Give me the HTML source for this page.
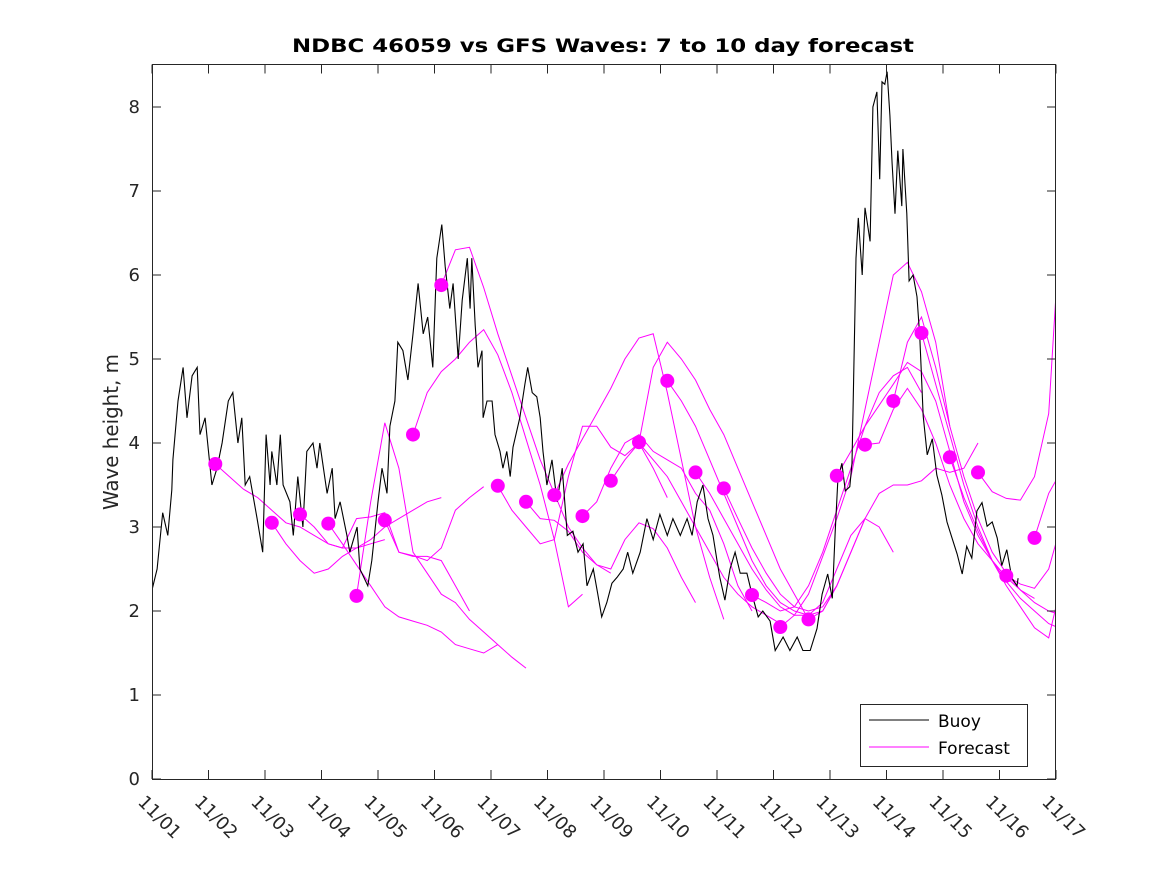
<!DOCTYPE html>
<html><head><meta charset="utf-8"><style>
html,body{margin:0;padding:0;background:#fff;}
svg{display:block;font-family:"DejaVu Sans","Liberation Sans",sans-serif;}
</style></head><body>
<svg id="chart" width="1167" height="875" viewBox="0 0 1167 875" xmlns="http://www.w3.org/2000/svg">
<rect x="0" y="0" width="1167" height="875" fill="#fff"/>
<text x="603" y="52" text-anchor="middle" font-size="19" font-weight="bold" fill="#000" textLength="622" lengthAdjust="spacingAndGlyphs">NDBC 46059 vs GFS Waves: 7 to 10 day forecast</text>
<text x="0" y="0" transform="translate(118,432) rotate(-90)" text-anchor="middle" font-size="20" fill="#262626" textLength="156" lengthAdjust="spacingAndGlyphs">Wave height, m</text>
<defs><clipPath id="clip"><rect x="152" y="64" width="904" height="715"/></clipPath></defs>
<g id="forecasts" clip-path="url(#clip)"></g>
<g id="buoy" clip-path="url(#clip)"></g>
<g id="dots" clip-path="url(#clip)"></g>
<g id="axes"></g>
<g>
<rect x="860.5" y="704.5" width="167" height="62" fill="#fff" stroke="#262626" stroke-width="1"/>
<line x1="869" y1="720" x2="929" y2="720" stroke="#000" stroke-width="1"/>
<text x="938" y="727" font-size="17" fill="#000">Buoy</text>
<line x1="869" y1="747" x2="929" y2="747" stroke="#ff00ff" stroke-width="1"/>
<text x="938" y="754" font-size="17" fill="#000">Forecast</text>
</g>
</svg>
<script>
const xTickLabels=["11/01","11/02","11/03","11/04","11/05","11/06","11/07","11/08","11/09","11/10","11/11","11/12","11/13","11/14","11/15","11/16","11/17"];
const yTickLabels=["0","1","2","3","4","5","6","7","8"];
const buoyDay=[0,.09,.19,.28,.35,.37,.46,.55,.62,.71,.80,.85,.94,1.06,1.15,1.24,1.35,1.43,1.52,1.59,1.65,1.73,1.86,1.96,2.02,2.09,2.12,2.21,2.27,2.32,2.44,2.50,2.58,2.67,2.74,2.85,2.92,2.97,3.10,3.19,3.24,3.33,3.45,3.50,3.63,3.68,3.82,3.89,4.00,4.07,4.16,4.21,4.30,4.35,4.44,4.53,4.62,4.71,4.80,4.88,4.97,5.04,5.13,5.19,5.27,5.33,5.42,5.49,5.58,5.63,5.66,5.72,5.77,5.84,5.86,5.93,6.02,6.07,6.16,6.21,6.28,6.34,6.39,6.51,6.60,6.65,6.73,6.81,6.87,6.92,6.99,7.08,7.17,7.26,7.35,7.45,7.54,7.63,7.70,7.81,7.89,7.96,8.05,8.14,8.23,8.34,8.42,8.51,8.64,8.76,8.87,8.99,9.12,9.22,9.35,9.47,9.56,9.65,9.75,9.84,9.93,10.00,10.05,10.14,10.23,10.32,10.41,10.53,10.62,10.73,10.81,10.94,11.03,11.17,11.29,11.42,11.52,11.65,11.77,11.86,11.96,12.04,12.09,12.14,12.21,12.27,12.35,12.39,12.42,12.46,12.50,12.57,12.62,12.71,12.76,12.83,12.88,12.92,12.97,13.01,13.06,13.10,13.15,13.20,13.27,13.29,13.36,13.40,13.47,13.54,13.59,13.65,13.72,13.81,13.89,13.98,14.07,14.16,14.25,14.34,14.42,14.51,14.60,14.69,14.78,14.87,14.96,15.04,15.13,15.22,15.31,15.33];
const buoyHs=[2.25,2.5,3.17,2.9,3.44,3.8,4.5,4.9,4.3,4.8,4.9,4.1,4.3,3.5,3.7,4.0,4.5,4.6,4.0,4.3,3.5,3.6,3.1,2.7,4.1,3.5,3.9,3.5,4.1,3.5,3.3,2.9,3.6,3.0,3.9,4.0,3.7,4.0,3.4,3.7,3.1,3.3,2.9,2.7,3.0,2.5,2.3,2.6,3.3,3.7,3.4,4.2,4.5,5.2,5.1,4.75,5.3,5.9,5.3,5.5,4.9,6.2,6.6,6.1,5.6,5.9,5.0,5.7,6.2,5.6,6.2,5.4,4.9,5.1,4.3,4.5,4.5,4.1,3.9,3.7,3.9,3.6,3.95,4.3,4.7,4.9,4.6,4.55,4.3,3.9,3.5,3.8,3.3,3.7,2.9,2.95,2.7,2.8,2.3,2.5,2.2,1.93,2.1,2.33,2.4,2.5,2.7,2.45,2.7,3.1,2.85,3.15,2.9,3.1,2.9,3.1,2.9,3.3,3.5,3.1,2.9,2.6,2.4,2.13,2.5,2.7,2.45,2.45,2.2,1.93,2.0,1.88,1.53,1.69,1.53,1.69,1.53,1.53,1.79,2.2,2.44,2.15,2.92,3.57,3.76,3.43,3.48,3.76,4.8,6.2,6.68,6.0,6.8,6.4,8.0,8.18,7.14,8.3,8.27,8.42,7.9,7.33,6.73,7.48,6.82,7.5,6.73,5.93,6.0,5.74,5.26,4.32,3.86,4.05,3.62,3.38,3.06,2.87,2.68,2.44,2.77,2.63,3.19,3.29,3.01,3.06,2.87,2.54,2.73,2.39,2.3,2.39];
const fcStart=[1.12,2.12,2.62,3.12,3.62,4.12,4.62,5.12,6.12,6.62,7.12,7.62,8.12,8.62,9.12,9.62,10.12,10.62,11.12,11.62,12.12,12.62,13.12,13.62,14.12,14.62,15.12,15.62];
const fcValues=[
[3.75,3.6,3.45,3.35,3.2,3.05,3.0,2.9,2.8,2.75,2.75,2.8,2.85],
[3.05,2.8,2.6,2.45,2.5,2.65,2.75,2.85,3.0,3.1,3.2,3.3,3.35],
[3.15,3.0,2.8,2.75,3.1,3.12,3.17,2.7,2.65,2.65,2.6,2.3,2.0],
[3.04,2.8,2.55,2.3,2.05,1.93,1.88,1.83,1.75,1.6,1.55,1.5,1.6],
[2.18,3.3,4.24,3.7,2.7,2.45,2.2,2.1,1.9,1.75,1.6,1.45,1.32],
[3.08,2.7,2.66,2.6,2.75,3.2,3.35,3.48,null,null,null,null,null],
[4.1,4.6,4.85,5.0,5.2,5.35,5.05,4.6,4.05,3.5,2.85,2.05,2.2],
[5.88,6.3,6.33,5.85,5.3,4.8,4.3,3.8,3.4,3.0,2.75,2.55,2.45],
[3.49,3.2,3.0,2.8,2.85,3.6,4.2,4.2,3.95,3.85,4.0,3.7,3.35],
[3.3,3.1,3.08,2.95,2.7,2.55,2.5,2.85,3.05,2.98,2.75,2.4,2.1],
[3.38,3.75,4.05,4.35,4.65,5.0,5.25,5.3,4.6,3.8,3.0,2.4,1.9],
[3.13,3.3,3.7,4.0,4.1,3.9,3.8,3.7,3.4,3.2,2.8,2.3,2.0],
[3.55,3.8,4.0,3.8,3.6,3.3,3.0,2.7,2.4,2.2,2.05,1.95,1.85],
[4.01,4.9,5.2,5.0,4.75,4.4,4.1,3.7,3.3,2.9,2.5,2.2,1.9],
[4.74,4.5,4.2,3.8,3.4,3.0,2.6,2.3,2.1,2.0,1.95,2.0,2.3],
[3.65,3.4,3.1,2.8,2.5,2.25,2.05,1.95,1.95,2.1,2.5,2.9,3.1],
[3.46,3.1,2.75,2.45,2.2,2.05,2.0,2.05,2.3,2.7,3.1,3.0,2.7],
[2.19,2.1,2.0,2.05,2.3,2.7,3.2,3.7,4.2,4.6,4.8,4.9,4.6],
[1.81,1.95,2.2,2.65,3.1,3.6,4.4,5.2,6.0,6.15,5.8,5.2,4.2],
[1.9,2.0,2.3,2.7,3.1,3.4,3.5,3.5,3.55,3.7,3.65,3.7,4.0],
[3.61,3.9,4.2,4.45,4.7,4.96,4.85,4.5,3.9,3.3,2.9,2.6,2.4],
[3.98,4.0,4.4,4.65,4.4,4.0,3.5,3.1,2.8,2.6,2.4,2.25,2.15],
[4.5,5.2,5.5,4.9,4.2,3.6,3.1,2.7,2.45,2.25,2.1,2.0,1.95],
[5.31,4.7,4.1,3.5,3.0,2.6,2.35,2.15,2.0,1.85,1.78,1.75,1.78],
[3.83,3.35,2.95,2.6,2.3,2.05,1.8,1.68,2.4,3.6,null,null,null],
[3.65,3.42,3.34,3.32,3.6,4.35,7.1,null,null,null,null,null,null],
[2.42,2.32,2.27,2.5,3.1,3.5,null,null,null,null,null,null,null],
[2.87,3.4,3.7,3.7,3.8,null,null,null,null,null,null,null,null]
];
const fcStep=0.25;

const NS="http://www.w3.org/2000/svg";
const X0=152,X1=1056,Y0=779,Y1=65;
const xMax=16,yMax=8.5;
function sx(d){return X0+d*(X1-X0)/xMax;}
function sy(v){return Y0-v*(Y0-Y1)/yMax;}
function mk(tag,attrs,parent){const e=document.createElementNS(NS,tag);for(const k in attrs)e.setAttribute(k,attrs[k]);parent.appendChild(e);return e;}

const fg=document.getElementById('forecasts');
fcValues.forEach((vals,i)=>{
  let d="",pen=false;
  vals.forEach((v,j)=>{
    if(v===null){pen=false;return;}
    const px=sx(fcStart[i]+j*fcStep),py=sy(v);
    d+=(pen?"L":"M")+px.toFixed(1)+","+py.toFixed(1);pen=true;
  });
  const p=mk('path',{d:d,fill:'none',stroke:'#ff00ff','stroke-width':1},fg);
  
  
});
const bg=document.getElementById('buoy');
let bd="";
buoyDay.forEach((t,i)=>{bd+=(i?"L":"M")+sx(t).toFixed(1)+","+sy(buoyHs[i]).toFixed(1);});
const bp=mk('path',{d:bd,fill:'none',stroke:'#000','stroke-width':1.1,'stroke-linejoin':'miter'},bg);


const dg=document.getElementById('dots');
fcValues.forEach((vals,i)=>{
  const c=mk('circle',{cx:sx(fcStart[i]).toFixed(1),cy:sy(vals[0]).toFixed(1),r:7,fill:'#ff00ff'},dg);
  
  
});
const ag=document.getElementById('axes');
const box=mk('rect',{x:X0+0.5,y:64.5,width:X1-X0-1,height:Y0-64,fill:'none',stroke:'#262626','stroke-width':1},ag);


xTickLabels.forEach((lab,i)=>{
  const x=sx(i);
  mk('line',{x1:x,y1:Y0,x2:x,y2:Y0-9,stroke:'#262626'},ag);
  mk('line',{x1:x,y1:64.5,x2:x,y2:73.5,stroke:'#262626'},ag);
  const t=mk('text',{x:0,y:0,transform:'translate('+(x-15)+',803) rotate(45)','font-size':18,fill:'#262626'},ag);
  t.textContent=lab;
  
  
});
yTickLabels.forEach((lab,i)=>{
  const y=sy(i);
  mk('line',{x1:X0,y1:y,x2:X0+9,y2:y,stroke:'#262626'},ag);
  mk('line',{x1:X1,y1:y,x2:X1-9,y2:y,stroke:'#262626'},ag);
  const t=mk('text',{x:140,y:y+6,'text-anchor':'end','font-size':18,fill:'#262626'},ag);
  t.textContent=lab;
  
  
});
</script>
</body></html>
